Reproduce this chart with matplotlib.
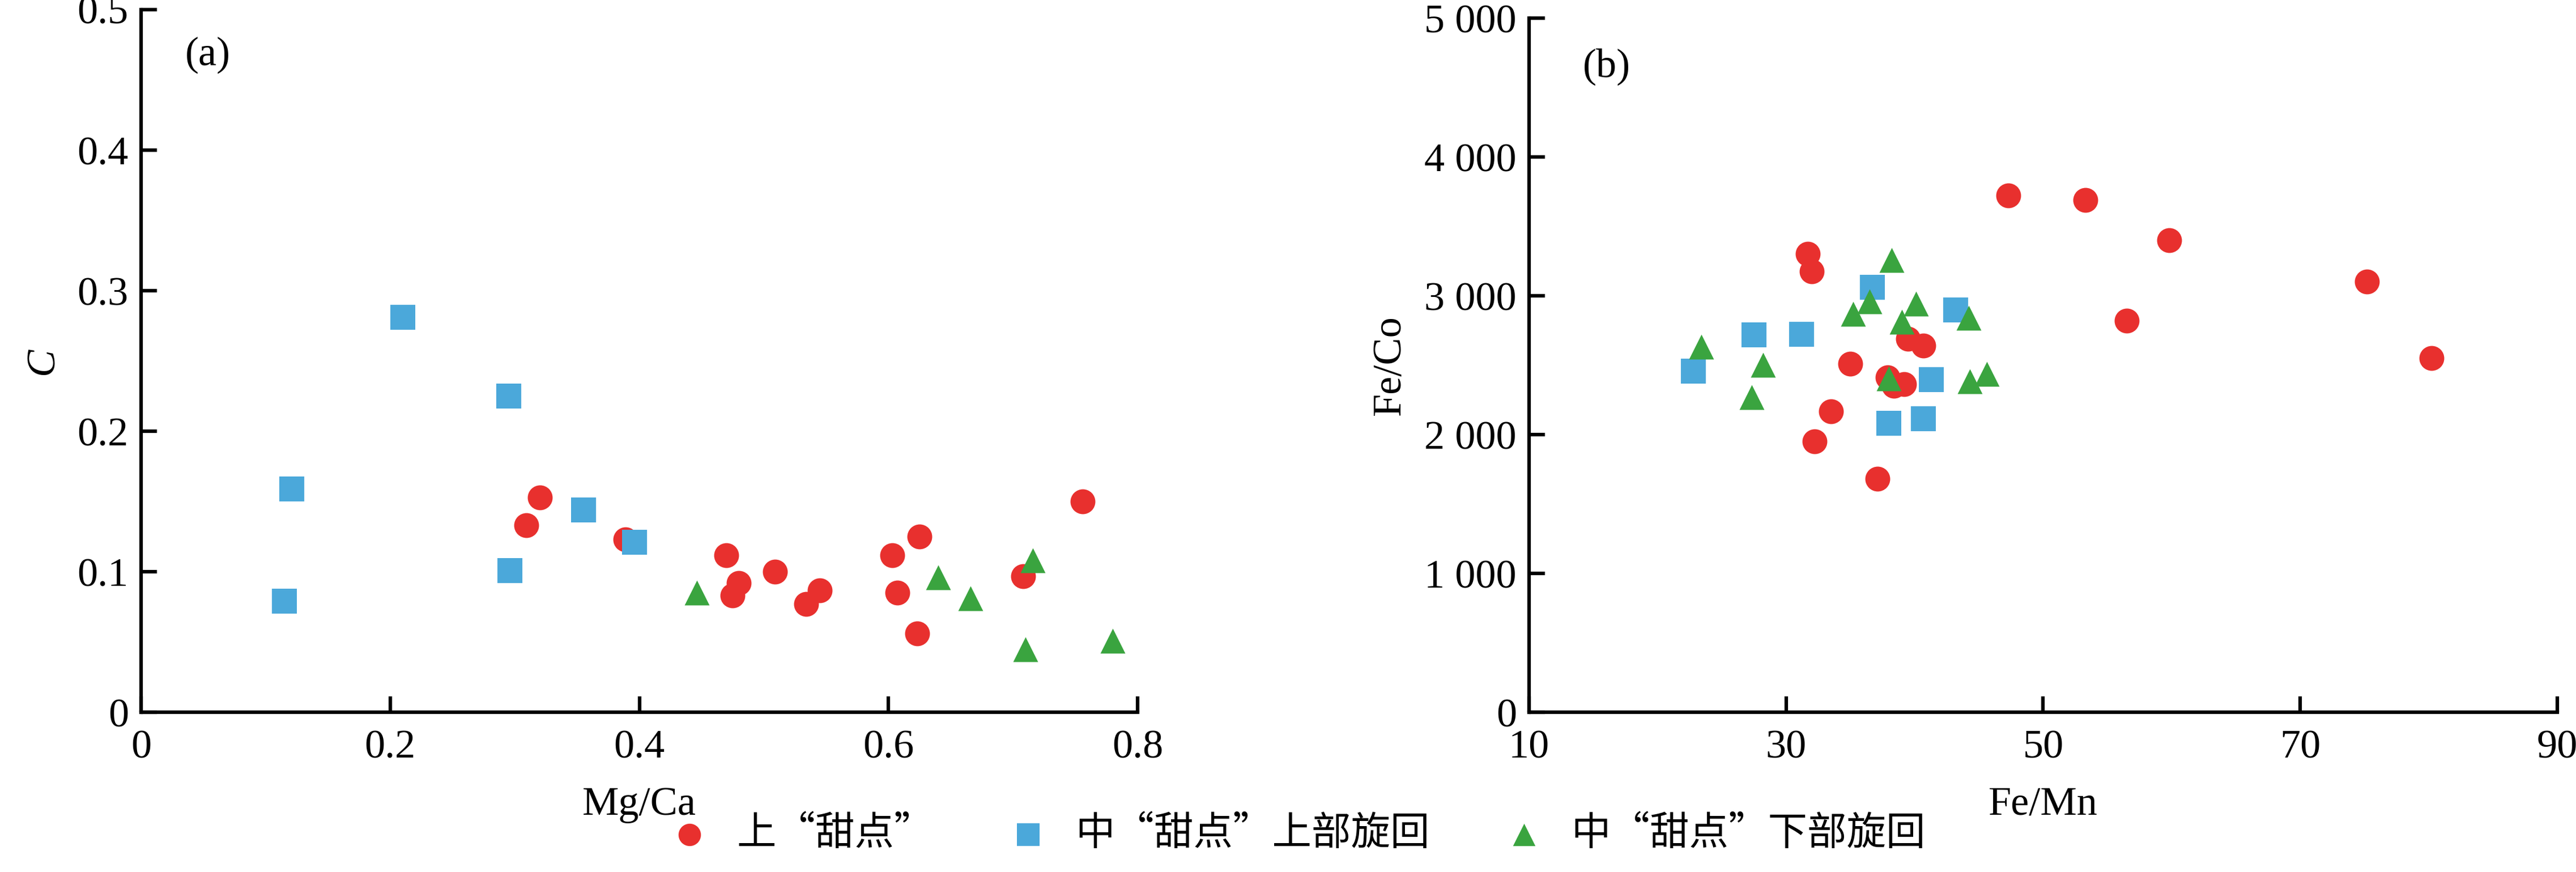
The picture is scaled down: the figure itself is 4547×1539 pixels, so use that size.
import matplotlib
matplotlib.use("Agg")
import matplotlib.pyplot as plt

# Panel (a): Mg/Ca vs C
a_up_x = [0.320, 0.309, 0.389, 0.470, 0.480, 0.475, 0.509, 0.545, 0.534, 0.603, 0.625, 0.607, 0.623, 0.708, 0.756]
a_up_y = [0.153, 0.133, 0.123, 0.112, 0.092, 0.083, 0.100, 0.087, 0.077, 0.112, 0.125, 0.085, 0.056, 0.097, 0.150]
a_mu_x = [0.121, 0.115, 0.210, 0.295, 0.296, 0.355, 0.396]
a_mu_y = [0.159, 0.079, 0.281, 0.225, 0.101, 0.144, 0.121]
a_ml_x = [0.446, 0.640, 0.666, 0.716, 0.710, 0.780]
a_ml_y = [0.085, 0.096, 0.081, 0.108, 0.045, 0.051]

# Panel (b): Fe/Mn vs Fe/Co
b_up_x = [47.3, 53.3, 59.8, 75.2, 80.2, 56.5, 31.7, 32.0, 39.5, 40.7, 35.0, 37.9, 38.4, 39.2, 33.5, 32.2, 37.1]
b_up_y = [3724, 3692, 3400, 3104, 2552, 2820, 3304, 3176, 2692, 2644, 2512, 2412, 2352, 2364, 2168, 1952, 1684]
b_mu_x = [22.8, 27.5, 31.2, 36.7, 43.2, 41.3, 38.0, 40.7]
b_mu_y = [2460, 2720, 2724, 3064, 2900, 2396, 2084, 2116]
b_ml_x = [23.4, 27.3, 28.2, 35.2, 36.5, 38.2, 39.0, 40.1, 38.0, 44.2, 44.3, 45.6]
b_ml_y = [2632, 2272, 2504, 2872, 2960, 3260, 2812, 2944, 2404, 2844, 2384, 2440]

series_labels = ["上“甜点”", "中“甜点”上部旋回", "中“甜点”下部旋回"]
a_xticks = [0, 0.2, 0.4, 0.6, 0.8]
a_xticklabels = ["0", "0.2", "0.4", "0.6", "0.8"]
a_yticks = [0, 0.1, 0.2, 0.3, 0.4, 0.5]
a_yticklabels = ["0", "0.1", "0.2", "0.3", "0.4", "0.5"]
b_xticks = [10, 30, 50, 70, 90]
b_xticklabels = ["10", "30", "50", "70", "90"]
b_yticks = [0, 1000, 2000, 3000, 4000, 5000]
b_yticklabels = ["0", "1 000", "2 000", "3 000", "4 000", "5 000"]

RED, BLUE, GREEN = "#E8302E", "#4BA8DA", "#3AA43F"
SERIF = ["Liberation Serif", "Noto Sans CJK SC"]
plt.rcParams['font.family'] = SERIF
FS = 52

fig = plt.figure(figsize=(45.47, 15.39), dpi=100)
axa = fig.add_axes([0.0548, 0.183, 0.3868, 0.806])
axb = fig.add_axes([0.5936, 0.183, 0.3991, 0.796])

def style(ax):
    for s in ["top", "right"]:
        ax.spines[s].set_visible(False)
    for s in ["left", "bottom"]:
        ax.spines[s].set_linewidth(4.5)
    ax.tick_params(direction="in", length=20, width=4.5, labelsize=FS)
    ax.tick_params(axis="x", pad=22)
    ax.tick_params(axis="y", pad=16)

def draw(ax, xs):
    (ux, uy), (mx, my), (lx, ly) = xs
    ax.scatter(ux, uy, s=1000, c=RED, marker="o", linewidths=0, label=series_labels[0], clip_on=False, zorder=3)
    ax.scatter(mx, my, s=1000, c=BLUE, marker="s", linewidths=0, label=series_labels[1], clip_on=False, zorder=3)
    ax.scatter(lx, ly, s=1000, c=GREEN, marker="^", linewidths=0, label=series_labels[2], clip_on=False, zorder=3)

draw(axa, [(a_up_x, a_up_y), (a_mu_x, a_mu_y), (a_ml_x, a_ml_y)])
draw(axb, [(b_up_x, b_up_y), (b_mu_x, b_mu_y), (b_ml_x, b_ml_y)])

for ax in (axa, axb):
    style(ax)

axa.set_xlim(0, 0.8); axa.set_ylim(0, 0.5)
axa.set_xticks(a_xticks, a_xticklabels); axa.set_yticks(a_yticks, a_yticklabels)
axb.set_xlim(10, 90); axb.set_ylim(0, 5000)
axb.set_xticks(b_xticks, b_xticklabels); axb.set_yticks(b_yticks, b_yticklabels)

axa.set_xlabel("Mg/Ca", fontsize=FS, labelpad=25)
axa.set_ylabel("C", fontsize=FS, style="italic", labelpad=20)
axb.set_xlabel("Fe/Mn", fontsize=FS, labelpad=25)
axb.set_ylabel("Fe/Co", fontsize=FS, labelpad=20)

axa.text(0.044, 0.935, "(a)", transform=axa.transAxes, fontsize=FS, va="center")
axb.text(0.052, 0.93, "(b)", transform=axb.transAxes, fontsize=FS, va="center")

h, l = axa.get_legend_handles_labels()
fig.legend(h, l, loc="lower center", bbox_to_anchor=(0.5, -0.02), ncol=3, frameon=False,
           prop={"family": ["Noto Sans CJK SC"], "size": 50},
           handletextpad=0.2, columnspacing=1.4, markerscale=0.9)

fig.savefig("out.png", dpi=100)
